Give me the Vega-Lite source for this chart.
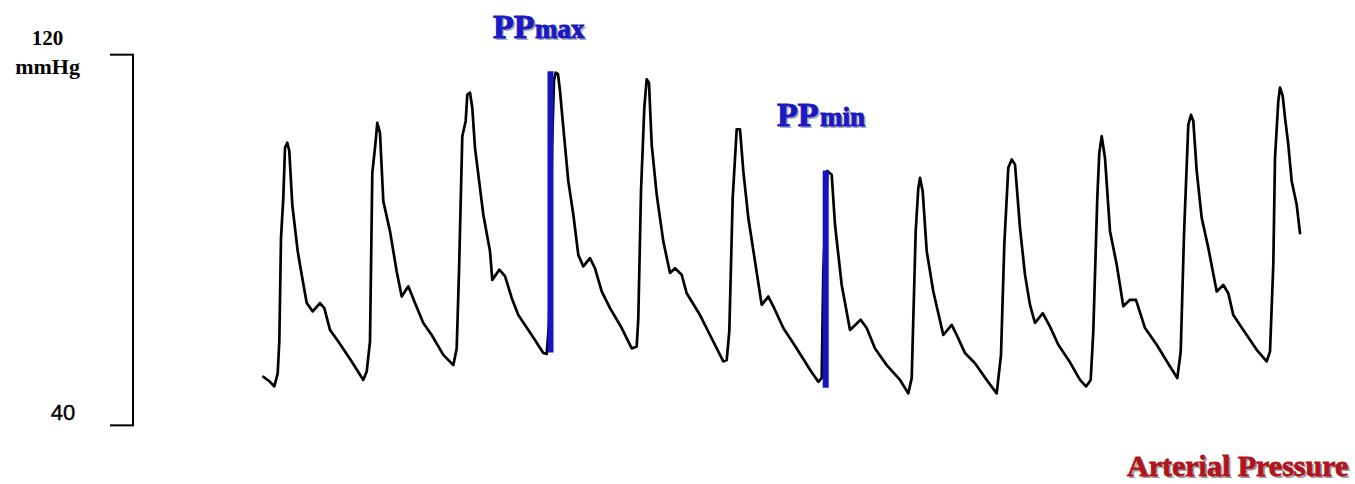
{
  "$schema": "https://vega.github.io/schema/vega-lite/v6.json",
  "width": 1355,
  "height": 484,
  "autosize": {"type": "fit", "contains": "padding"},
  "padding": 0,
  "background": "white",
  "config": {"view": {"stroke": null}},
  "datasets": {
    "pressure": [
      {"t":263.3,"p":50.5},{"t":270,"p":49.4},{"t":274.3,"p":48.4},{"t":277.7,"p":51.2},{"t":279.3,"p":58.1},{"t":281,"p":80.4},{"t":283.3,"p":89.1},{"t":285,"p":99.9},{"t":287.3,"p":101.0},{"t":289.3,"p":99.2},{"t":292.3,"p":87.6},{"t":297.7,"p":77.6},{"t":301.7,"p":72.5},{"t":306.7,"p":66.4},{"t":312.7,"p":64.6},{"t":320,"p":66.4},{"t":324.3,"p":65.3},{"t":330,"p":60.6},{"t":338.3,"p":58.1},{"t":351.7,"p":53.8},{"t":363.3,"p":49.8},
      {"t":366.7,"p":51.6},{"t":370,"p":58.1},{"t":372.3,"p":94.5},{"t":375,"p":99.9},{"t":377.3,"p":105.3},{"t":380,"p":103.1},{"t":383.3,"p":88.4},{"t":390,"p":81.9},{"t":396.7,"p":73.2},{"t":401.7,"p":67.8},{"t":408.3,"p":70.0},{"t":415,"p":66.4},{"t":423.3,"p":62.1},{"t":431.7,"p":59.5},{"t":443.3,"p":55.2},{"t":453.3,"p":53.0},
      {"t":456.7,"p":56.6},{"t":459,"p":73.2},{"t":462.3,"p":102.4},{"t":465.7,"p":105.7},{"t":467.3,"p":111.4},{"t":470,"p":111.8},{"t":472.3,"p":108.5},{"t":475,"p":99.9},{"t":483.3,"p":85.5},{"t":490,"p":77.6},{"t":492.3,"p":71.4},{"t":499.3,"p":73.6},{"t":505,"p":72.2},{"t":511.7,"p":67.5},{"t":518.3,"p":63.8},{"t":531.7,"p":59.5},{"t":543.3,"p":55.6},{"t":546.7,"p":55.4},
      {"t":549,"p":62},{"t":552,"p":100},{"t":554,"p":114.5},{"t":555.7,"p":116.1},{"t":558,"p":115.8},{"t":560,"p":112.2},{"t":562.7,"p":105.7},{"t":568.3,"p":92.7},{"t":573.3,"p":85.5},{"t":578.3,"p":76.8},{"t":583.3,"p":74.3},{"t":590,"p":76.1},{"t":595,"p":73.9},{"t":601.7,"p":68.9},{"t":610,"p":65.3},{"t":621.7,"p":61.0},{"t":631.7,"p":56.6},{"t":636.7,"p":57.0},
      {"t":638.3,"p":63.1},{"t":641,"p":90.5},{"t":644.3,"p":108.5},{"t":646.7,"p":114.7},{"t":649,"p":113.9},{"t":651.7,"p":100.6},{"t":656.7,"p":89.8},{"t":663.3,"p":79.7},{"t":670,"p":72.9},{"t":675,"p":73.9},{"t":681.7,"p":72.5},{"t":686.7,"p":68.5},{"t":700,"p":63.8},{"t":710,"p":59.5},{"t":723.3,"p":53.8},{"t":726.7,"p":54.1},
      {"t":729.3,"p":60.3},{"t":732.7,"p":89.1},{"t":736.7,"p":103.9},{"t":740,"p":103.9},{"t":743.3,"p":94.9},{"t":748.3,"p":84.8},{"t":755,"p":75.4},{"t":761.7,"p":66.0},{"t":768.3,"p":67.8},{"t":773.3,"p":65.7},{"t":783.3,"p":61.0},{"t":796.7,"p":56.6},{"t":810,"p":52.0},{"t":818.3,"p":49.4},{"t":821.7,"p":50.2},
      {"t":823.3,"p":73.2},{"t":827.3,"p":94.9},{"t":831.7,"p":94.1},{"t":835,"p":83.3},{"t":841.7,"p":70.3},{"t":850,"p":60.6},{"t":860.7,"p":62.8},{"t":866.7,"p":61.0},{"t":875,"p":56.6},{"t":886.7,"p":53.0},{"t":900,"p":49.8},{"t":908.3,"p":46.9},
      {"t":911.7,"p":50.2},{"t":915.7,"p":81.9},{"t":918.3,"p":91.2},{"t":920,"p":93.4},{"t":922.7,"p":90.5},{"t":926.7,"p":77.6},{"t":933.3,"p":68.9},{"t":943.3,"p":59.5},{"t":951.7,"p":61.7},{"t":956.7,"p":59.5},{"t":965,"p":55.6},{"t":975,"p":53.4},{"t":986.7,"p":49.8},{"t":996.7,"p":46.9},
      {"t":1001,"p":55.2},{"t":1004.3,"p":79.0},{"t":1008.3,"p":95.6},{"t":1011.7,"p":97.4},{"t":1015,"p":96.3},{"t":1020,"p":82.6},{"t":1025,"p":72.5},{"t":1030,"p":66.0},{"t":1035,"p":62.1},{"t":1042.7,"p":64.2},{"t":1050,"p":61.3},{"t":1058.3,"p":57.4},{"t":1070,"p":53.6},{"t":1080,"p":49.8},{"t":1086,"p":48.4},{"t":1090.7,"p":49.8},
      {"t":1093.3,"p":60.3},{"t":1097.3,"p":89.1},{"t":1099.3,"p":98.8},{"t":1101.7,"p":102.4},{"t":1105,"p":97.7},{"t":1110,"p":81.9},{"t":1116.7,"p":74.7},{"t":1123.3,"p":65.7},{"t":1130,"p":67.1},{"t":1136,"p":67.1},{"t":1145,"p":61.0},{"t":1156.7,"p":57.4},{"t":1170,"p":52.7},{"t":1177.3,"p":50.2},
      {"t":1180.7,"p":55.9},{"t":1184,"p":81.1},{"t":1188.3,"p":104.9},{"t":1191,"p":107.0},{"t":1193.3,"p":105.7},{"t":1196.7,"p":94.9},{"t":1201.7,"p":84.8},{"t":1208.3,"p":78.3},{"t":1216.7,"p":68.9},{"t":1223.3,"p":70.3},{"t":1228.3,"p":68.5},{"t":1233.3,"p":63.8},{"t":1243.3,"p":60.6},{"t":1256.7,"p":56.3},{"t":1266.7,"p":53.8},{"t":1270,"p":55.9},
      {"t":1273.3,"p":74.7},{"t":1275,"p":97.7},{"t":1278.3,"p":110.0},{"t":1280,"p":112.9},{"t":1282.7,"p":111.1},{"t":1285,"p":106.4},{"t":1288.3,"p":100.6},{"t":1291.7,"p":92.7},{"t":1296.7,"p":87.6},{"t":1300,"p":81.5}
    ],
    "pp": [
      {"beat":"PPmax","t":550.5,"top":116.4,"bottom":55.7},
      {"beat":"PPmin","t":825.7,"top":95.0,"bottom":48.1}
    ],
    "scaleTicks": [{"v":120},{"v":40}]
  },
  "layer": [
    {
      "data": {"name": "pressure"},
      "mark": {"type": "line", "color": "black", "strokeWidth": 2.7, "strokeJoin": "round", "strokeCap": "round"},
      "encoding": {
        "x": {"field": "t", "type": "quantitative", "scale": {"domain": [0, 1355], "nice": false, "zero": false}, "axis": null},
        "y": {"field": "p", "type": "quantitative", "scale": {"domain": [27.99, 131.8], "nice": false, "zero": false}, "axis": null},
        "order": {"field": "t"}
      }
    },
    {
      "data": {"name": "pp"},
      "mark": {"type": "rule", "color": "#1414c0", "strokeWidth": 6},
      "encoding": {
        "x": {"field": "t", "type": "quantitative"},
        "y": {"field": "top", "type": "quantitative"},
        "y2": {"field": "bottom"}
      }
    },
    {
      "data": {"values": [{}]},
      "mark": {"type": "rule", "color": "black", "strokeWidth": 2},
      "encoding": {
        "x": {"datum": 133},
        "y": {"datum": 120},
        "y2": {"datum": 40}
      }
    },
    {
      "data": {"name": "scaleTicks"},
      "mark": {"type": "rule", "color": "black", "strokeWidth": 2},
      "encoding": {
        "x": {"datum": 110},
        "x2": {"datum": 134},
        "y": {"field": "v", "type": "quantitative"}
      }
    },
    {
      "data": {"values": [{"label": "120"}]},
      "mark": {"type": "text", "font": "Liberation Serif", "fontWeight": "bold", "fontSize": 21, "align": "center", "baseline": "alphabetic", "color": "black"},
      "encoding": {"x": {"datum": 47.5}, "y": {"datum": 122.1}, "text": {"field": "label"}}
    },
    {
      "data": {"values": [{"label": "mmHg"}]},
      "mark": {"type": "text", "font": "Liberation Serif", "fontWeight": "bold", "fontSize": 22, "align": "center", "baseline": "alphabetic", "color": "black"},
      "encoding": {"x": {"datum": 47.5}, "y": {"datum": 115.9}, "text": {"field": "label"}}
    },
    {
      "data": {"values": [{"label": "40"}]},
      "mark": {"type": "text", "font": "Liberation Sans", "fontSize": 22, "align": "center", "baseline": "alphabetic", "color": "black", "stroke": "black", "strokeWidth": 0.4},
      "encoding": {"x": {"datum": 63}, "y": {"datum": 41.1}, "text": {"field": "label"}}
    },
    {
      "data": {"values": [{"label": "PP"}]},
      "mark": {"type": "text", "font": "Liberation Serif", "fontWeight": "bold", "fontSize": 34, "align": "left", "baseline": "alphabetic", "color": "#a8a8c0", "dx": 2, "dy": 2},
      "encoding": {"x": {"datum": 493}, "y": {"datum": 123.6}, "text": {"field": "label"}}
    },
    {
      "data": {"values": [{"label": "max"}]},
      "mark": {"type": "text", "font": "Liberation Serif", "fontWeight": "bold", "fontSize": 27, "align": "left", "baseline": "alphabetic", "color": "#a8a8c0", "dx": 2, "dy": 2},
      "encoding": {"x": {"datum": 535}, "y": {"datum": 123.6}, "text": {"field": "label"}}
    },
    {
      "data": {"values": [{"label": "PP"}]},
      "mark": {"type": "text", "font": "Liberation Serif", "fontWeight": "bold", "fontSize": 34, "align": "left", "baseline": "alphabetic", "color": "#1a1ac0", "stroke": "#1a1ac0", "strokeWidth": 1},
      "encoding": {"x": {"datum": 493}, "y": {"datum": 123.6}, "text": {"field": "label"}}
    },
    {
      "data": {"values": [{"label": "max"}]},
      "mark": {"type": "text", "font": "Liberation Serif", "fontWeight": "bold", "fontSize": 27, "align": "left", "baseline": "alphabetic", "color": "#1a1ac0", "stroke": "#1a1ac0", "strokeWidth": 1},
      "encoding": {"x": {"datum": 535}, "y": {"datum": 123.6}, "text": {"field": "label"}}
    },
    {
      "data": {"values": [{"label": "PP"}]},
      "mark": {"type": "text", "font": "Liberation Serif", "fontWeight": "bold", "fontSize": 34, "align": "left", "baseline": "alphabetic", "color": "#a8a8c0", "dx": 2, "dy": 2},
      "encoding": {"x": {"datum": 777}, "y": {"datum": 104.6}, "text": {"field": "label"}}
    },
    {
      "data": {"values": [{"label": "min"}]},
      "mark": {"type": "text", "font": "Liberation Serif", "fontWeight": "bold", "fontSize": 27, "align": "left", "baseline": "alphabetic", "color": "#a8a8c0", "dx": 2, "dy": 2},
      "encoding": {"x": {"datum": 820}, "y": {"datum": 104.6}, "text": {"field": "label"}}
    },
    {
      "data": {"values": [{"label": "PP"}]},
      "mark": {"type": "text", "font": "Liberation Serif", "fontWeight": "bold", "fontSize": 34, "align": "left", "baseline": "alphabetic", "color": "#1a1ac0", "stroke": "#1a1ac0", "strokeWidth": 1},
      "encoding": {"x": {"datum": 777}, "y": {"datum": 104.6}, "text": {"field": "label"}}
    },
    {
      "data": {"values": [{"label": "min"}]},
      "mark": {"type": "text", "font": "Liberation Serif", "fontWeight": "bold", "fontSize": 27, "align": "left", "baseline": "alphabetic", "color": "#1a1ac0", "stroke": "#1a1ac0", "strokeWidth": 1},
      "encoding": {"x": {"datum": 820}, "y": {"datum": 104.6}, "text": {"field": "label"}}
    },
    {
      "data": {"values": [{"label": "Arterial Pressure"}]},
      "mark": {"type": "text", "font": "Liberation Serif", "fontWeight": "bold", "fontSize": 30, "align": "left", "baseline": "alphabetic", "color": "#9a9a9a", "dx": 2, "dy": 2},
      "encoding": {"x": {"datum": 1127}, "y": {"datum": 29.1}, "text": {"field": "label"}}
    },
    {
      "data": {"values": [{"label": "Arterial Pressure"}]},
      "mark": {"type": "text", "font": "Liberation Serif", "fontWeight": "bold", "fontSize": 30, "align": "left", "baseline": "alphabetic", "color": "#b0141c", "stroke": "#b0141c", "strokeWidth": 0.8},
      "encoding": {"x": {"datum": 1127}, "y": {"datum": 29.1}, "text": {"field": "label"}}
    }
  ]
}
